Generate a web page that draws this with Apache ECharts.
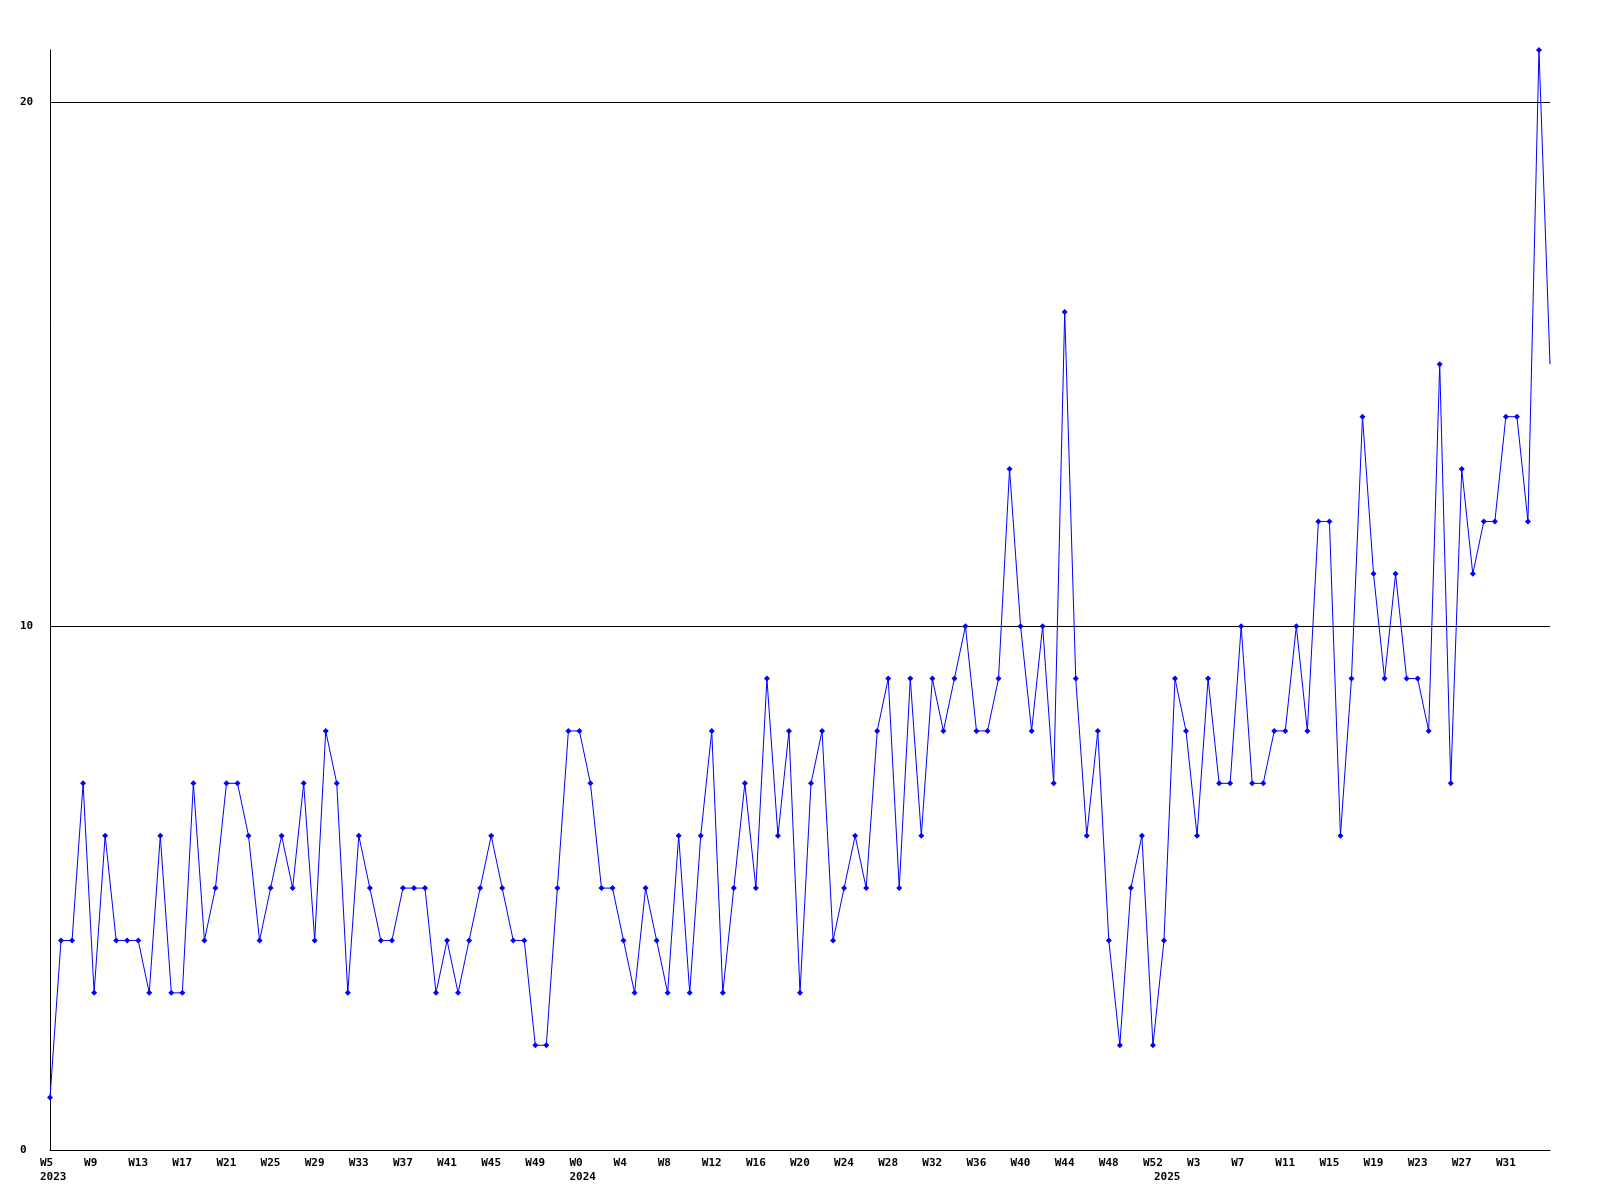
<!DOCTYPE html>
<html>
<head>
<meta charset="utf-8">
<script src="https://cdn.jsdelivr.net/npm/echarts@6/dist/echarts.min.js"></script>
<style>
html,body{margin:0;padding:0;background:#fff;}
#chart{width:1600px;height:1200px;}
</style>
</head>
<body>
<div id="chart"></div>
<script>
// Year segments of the weekly category axis
var years = [2023, 2024, 2025];
var firstWeek = [5, 0, 0];
var lastWeek = [52, 52, 35];

// Weekly values per year
var values2023 = [1,4,4,7,3,6,4,4,4,3, 6,3,3,7,4,5,7,7,6,4, 5,6,5,7,4,8,7,3,6,5, 4,4,5,5,5,3,4,3,4,5, 6,5,4,4,2,2,5,8];
var values2024 = [8,7,5,5,4,3,5,4,3,6, 3,6,8,3,5,7,5,9,6,8, 3,7,8,4,5,6,5,8,9,5, 9,6,9,8,9,10,8,8,9,13, 10,8,10,7,16,9,6,8,4,2, 5,6,2];
var values2025 = [4,9,8,6,9,7,7,10,7,7, 8,8,10,8,12,12,6,9,14,11, 9,11,9,9,8,15,7,13,11,12, 12,14,14,12,21,15];

// Y axis ticks
var yTicks = [0, 10, 20];
var yMax = 21;

var categories = [];
var yearStart = {};
for (var i = 0; i < years.length; i++) {
  yearStart[categories.length] = years[i];
  for (var w = firstWeek[i]; w <= lastWeek[i]; w++) {
    categories.push('W' + w);
  }
}
var allValues = values2023.concat(values2024, values2025);
var seriesData = allValues.map(function (v, idx) {
  if (idx === allValues.length - 1) return { value: v, symbol: 'none' };
  return v;
});

var font = '"DejaVu Sans Mono", "Liberation Mono", monospace';
var chart = echarts.init(document.getElementById('chart'), null, { renderer: 'canvas' });
chart.setOption({
  animation: false,
  backgroundColor: '#ffffff',
  grid: { left: 50, right: 50, top: 50, bottom: 50, containLabel: false },
  xAxis: {
    type: 'category',
    data: categories,
    boundaryGap: false,
    axisLine: { show: true, lineStyle: { color: '#000', width: 1 } },
    axisTick: { show: false },
    splitLine: { show: false },
    axisLabel: {
      interval: 0,
      margin: 6,
      align: 'left',
      padding: [0, 0, 0, -10],
      color: '#000',
      fontFamily: font,
      fontWeight: 'bold',
      fontSize: 11,
      lineHeight: 14,
      formatter: function (val, idx) {
        var wk = (idx % 4 === 0 && idx < categories.length - 1) ? val : '';
        var yr = (yearStart[idx] !== undefined) ? String(yearStart[idx]) : '';
        if (!wk && !yr) return '';
        return wk + '\n' + yr;
      }
    }
  },
  yAxis: {
    type: 'value',
    min: 0,
    max: yMax,
    interval: yTicks[1] - yTicks[0],
    axisLine: { show: true, lineStyle: { color: '#000', width: 1 } },
    axisTick: { show: false },
    splitLine: { show: true, showMaxLine: false, lineStyle: { color: '#000', width: 1 } },
    axisLabel: {
      showMaxLabel: false,
      align: 'left',
      margin: 30,
      color: '#000',
      fontFamily: font,
      fontWeight: 'bold',
      fontSize: 11
    }
  },
  series: [{
    type: 'line',
    data: seriesData,
    symbol: 'diamond',
    symbolSize: 6,
    showAllSymbol: true,
    lineStyle: { color: '#0000ff', width: 1 },
    itemStyle: { color: '#0000ff' },
    emphasis: { disabled: true }
  }]
});
</script>
</body>
</html>
